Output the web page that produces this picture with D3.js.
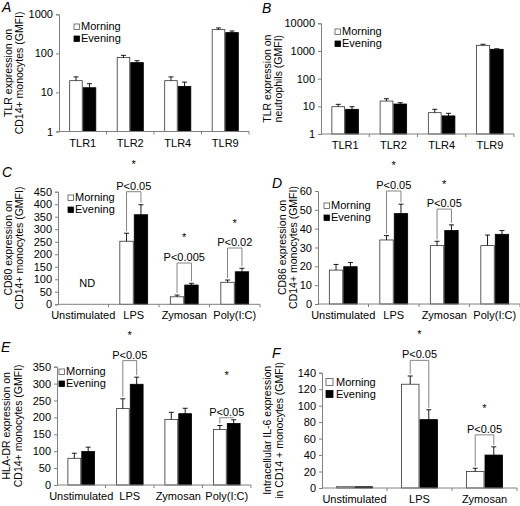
<!DOCTYPE html>
<html>
<head>
<meta charset="utf-8">
<script src="https://cdn.jsdelivr.net/npm/d3@7/dist/d3.min.js"></script>
<style>
  html, body { margin: 0; padding: 0; background: #fff; }
  svg { display: block; }
  text { font-family: "Liberation Sans", Arial, sans-serif; fill: #000; }
</style>
</head>
<body>
<svg id="chart" width="520" height="506"></svg>
<script>
// ---------- data ----------
const seriesNames = ["Morning", "Evening"];
const catsTLR = ["TLR1", "TLR2", "TLR4", "TLR9"];
const catsStim = ["Unstimulated", "LPS", "Zymosan", "Poly(I:C)"];
const catsIL6 = ["Unstimulated", "LPS", "Zymosan"];

// A: TLR on CD14+ monocytes (log)
const aMorning = [20, 78, 20, 405];
const aMorningErr = [5, 11, 5, 42];
const aEvening = [13.2, 58, 14.3, 340];
const aEveningErr = [3.5, 7, 4.1, 34];
const aTicks = [1, 10, 100, 1000];

// B: TLR on neutrophils (log)
const bMorning = [9.7, 15.5, 5.9, 1600];
const bMorningErr = [2.1, 3.3, 1.9, 150];
const bEvening = [7.8, 12.1, 4.5, 1150];
const bEveningErr = [1.9, 1.4, 1.1, 50];
const bTicks = [1, 10, 100, 1000, 10000];

// C: CD80 (Unstimulated = ND)
const cMorning = [null, 252, 30, 88];
const cMorningErr = [0, 32, 7, 9];
const cEvening = [null, 358, 77, 130];
const cEveningErr = [0, 40, 7, 14];
const cTicks = [0, 50, 100, 150, 200, 250, 300, 350, 400, 450];

// D: CD86
const dMorning = [18, 34, 31, 31];
const dMorningErr = [3, 2.3, 2.3, 5.6];
const dEvening = [19.8, 48, 39, 37];
const dEveningErr = [2.2, 5, 3, 2];
const dTicks = [0, 10, 20, 30, 40, 50, 60];

// E: HLA-DR
const eMorning = [79, 226, 194, 164];
const eMorningErr = [15, 29, 21, 12];
const eEvening = [99, 298, 211, 182];
const eEveningErr = [13, 21, 16, 11];
const eTicks = [0, 50, 100, 150, 200, 250, 300, 350];

// F: intracellular IL-6
const fMorning = [1.5, 126, 20];
const fMorningErr = [0, 10, 4];
const fEvening = [1.5, 83, 40];
const fEveningErr = [0, 12, 10];
const fTicks = [0, 20, 40, 60, 80, 100, 120, 140];

// annotations (in data units)
const cBrackets = [{cat: "LPS", at: 450, label: "P<0.05"}, {cat: "Zymosan", at: 165, label: "P<0.005"}, {cat: "Poly(I:C)", at: 225, label: "P<0.02"}];
const dBrackets = [{cat: "LPS", at: 60, label: "P<0.05"}, {cat: "Zymosan", at: 50.4, label: "P<0.05"}];
const eBrackets = [{cat: "LPS", at: 368, label: "P<0.05"}, {cat: "Poly(I:C)", at: 199, label: "P<0.05"}];
const fBrackets = [{cat: "LPS", at: 155, label: "P<0.05"}, {cat: "Zymosan", at: 64.5, label: "P<0.05"}];
const cStars = [{cat: "LPS", at: 569}, {cat: "Zymosan", at: 277}, {cat: "Poly(I:C)", at: 333}];
const dStars = [{cat: "LPS", at: 75}, {cat: "Zymosan", at: 65}];
const eStars = [{cat: "LPS", at: 451}, {cat: "Poly(I:C)", at: 332}];
const fStars = [{cat: "LPS", at: 189}, {cat: "Zymosan", at: 99}];
const cNotes = [{cat: "Unstimulated", at: 69, label: "ND"}];

// ---------- layout ----------
const panels = [
  {letter: "A", lx: 2, ly: 12, x0: 59, x1: 249, yt: 14.3, yb: 131.5, log: true, domain: [1, 1000], ticks: aTicks,
   cats: catsTLR, m: aMorning, me: aMorningErr, e: aEvening, ee: aEveningErr,
   title: ["TLR expression on", "CD14+ monocytes (GMFI)"], tx: [8, 19], leg: [74, 30],
   brackets: [], stars: [], notes: []},
  {letter: "B", lx: 262, ly: 13, x0: 321, x1: 514, yt: 23.3, yb: 134, log: true, domain: [1, 10000], ticks: bTicks,
   cats: catsTLR, m: bMorning, me: bMorningErr, e: bEvening, ee: bEveningErr,
   title: ["TLR expression on", "neutrophils (GMFI)"], tx: [267, 278], leg: [335, 35],
   brackets: [], stars: [], notes: []},
  {letter: "C", lx: 2, ly: 177, x0: 58, x1: 260, yt: 191.7, yb: 304.3, log: false, domain: [0, 450], ticks: cTicks,
   cats: catsStim, m: cMorning, me: cMorningErr, e: cEvening, ee: cEveningErr,
   title: ["CD80 expression on", "CD14+ monocytes (GMFI)"], tx: [8, 19], leg: [68, 201],
   brackets: cBrackets, stars: cStars, notes: cNotes},
  {letter: "D", lx: 272, ly: 188, x0: 318, x1: 520, yt: 191, yb: 304, log: false, domain: [0, 60], ticks: dTicks,
   cats: catsStim, m: dMorning, me: dMorningErr, e: dEvening, ee: dEveningErr,
   title: ["CD86 expression on", "CD14+ monocytes (GMFI)"], tx: [282, 293], leg: [324, 209],
   brackets: dBrackets, stars: dStars, notes: []},
  {letter: "E", lx: 1, ly: 352, x0: 57, x1: 251, yt: 366.7, yb: 485, log: false, domain: [0, 350], ticks: eTicks,
   cats: catsStim, m: eMorning, me: eMorningErr, e: eEvening, ee: eEveningErr,
   title: ["HLA-DR expression on", "CD14+ monocytes (GMFI)"], tx: [6, 18], leg: [59, 375],
   brackets: eBrackets, stars: eStars, notes: []},
  {letter: "F", lx: 272, ly: 358, x0: 322, x1: 517, yt: 372.7, yb: 488, log: false, domain: [0, 140], ticks: fTicks,
   cats: catsIL6, m: fMorning, me: fMorningErr, e: fEvening, ee: fEveningErr,
   title: ["Intracellular IL-6 expression", "in CD14 + monocytes (GMFI)"], tx: [267, 279], leg: [326, 386], bigLeg: true,
   brackets: fBrackets, stars: fStars, notes: []}
];

const svg = d3.select("#chart");
const AX = "#808080";

function drawPanel(p) {
  const g = svg.append("g");
  const x = d3.scaleBand().domain(p.cats).range([p.x0, p.x1]);
  const bw = x.bandwidth();
  const frac = 0.571;
  const xs = d3.scaleBand().domain(seriesNames).range([bw * (1 - frac) / 2, bw * (1 + frac) / 2]);
  const y = p.log ? d3.scaleLog().domain(p.domain).range([p.yb, p.yt])
                  : d3.scaleLinear().domain(p.domain).range([p.yb, p.yt]);
  const base = p.log ? p.domain[0] : 0;

  // panel letter
  g.append("text").attr("x", p.lx).attr("y", p.ly).attr("font-size", 14).attr("font-style", "italic").text(p.letter);

  // y title
  const cy = (p.yt + p.yb) / 2;
  p.title.forEach((t, i) => {
    g.append("text").attr("transform", `translate(${p.tx[i]},${cy}) rotate(-90)`)
      .attr("text-anchor", "middle").attr("dominant-baseline", "central")
      .attr("font-size", 10.5).text(t);
  });

  // y axis
  const ya = g.append("g").attr("transform", `translate(${p.x0},0)`)
    .call(d3.axisLeft(y).tickValues(p.ticks).tickSize(3).tickPadding(3).tickFormat(d3.format("d")));
  ya.select(".domain").attr("stroke", AX);
  ya.selectAll(".tick line").attr("stroke", AX);
  ya.selectAll(".tick text").attr("font-size", 11).attr("font-family", "Liberation Sans, Arial, sans-serif").attr("fill", "#000");

  // bars
  const series = [
    {name: "Morning", v: p.m, err: p.me, fill: "#fff", stroke: "#333"},
    {name: "Evening", v: p.e, err: p.ee, fill: "#000", stroke: "#000"}
  ];
  series.forEach(s => {
    p.cats.forEach((c, i) => {
      const v = s.v[i];
      if (v == null) return;
      const bx = x(c) + xs(s.name);
      const w = xs.bandwidth();
      g.append("rect").attr("x", bx + 0.5).attr("y", y(v)).attr("width", w - 1)
        .attr("height", Math.max(0.8, y(base) - y(v)))
        .attr("fill", s.fill).attr("stroke", s.stroke).attr("stroke-width", 0.8);
      const er = s.err[i];
      if (er > 0) {
        const cx = bx + w / 2;
        g.append("line").attr("x1", cx).attr("x2", cx).attr("y1", y(v)).attr("y2", y(v + er))
          .attr("stroke", "#000").attr("stroke-width", 0.9);
        g.append("line").attr("x1", cx - 2.5).attr("x2", cx + 2.5).attr("y1", y(v + er)).attr("y2", y(v + er))
          .attr("stroke", "#000").attr("stroke-width", 0.9);
      }
    });
  });

  // x axis
  g.append("line").attr("x1", p.x0).attr("x2", p.x1).attr("y1", p.yb).attr("y2", p.yb).attr("stroke", AX);
  const bounds = p.cats.slice(1).map(c => x(c)).concat([p.x1]);
  bounds.forEach(bx => {
    g.append("line").attr("x1", bx).attr("x2", bx).attr("y1", p.yb).attr("y2", p.yb + 3).attr("stroke", AX);
  });
  p.cats.forEach(c => {
    g.append("text").attr("x", x(c) + bw / 2).attr("y", p.yb + 15).attr("text-anchor", "middle")
      .attr("font-size", 11).text(c);
  });

  // legend
  const ls = p.bigLeg ? 7 : 5.5;
  seriesNames.forEach((n, i) => {
    const ty = p.leg[1] + i * 12;
    g.append("rect").attr("x", p.leg[0]).attr("y", ty - ls - 0.5).attr("width", ls).attr("height", ls)
      .attr("fill", i === 0 ? "#fff" : "#000").attr("stroke", i === 0 ? "#555" : "#000").attr("stroke-width", 0.8);
    g.append("text").attr("x", p.leg[0] + ls + (p.bigLeg ? 3 : 1.5)).attr("y", ty).attr("font-size", 11).text(n);
  });

  // brackets
  p.brackets.forEach(b => {
    const i = p.cats.indexOf(b.cat);
    const lx = x(b.cat) + xs("Morning") + xs.bandwidth() / 2;
    const rx = x(b.cat) + xs("Evening") + xs.bandwidth() / 2;
    const by = y(b.at);
    const ly = y(p.m[i] + p.me[i]) - 2;
    const ry = y(p.e[i] + p.ee[i]) - 2;
    g.append("path").attr("d", `M${lx},${ly}V${by}H${rx}V${ry}`)
      .attr("fill", "none").attr("stroke", "#777").attr("stroke-width", 0.9);
    g.append("text").attr("x", (lx + rx) / 2).attr("y", by - 2).attr("text-anchor", "middle")
      .attr("font-size", 11).text(b.label);
  });

  // asterisks
  p.stars.forEach(s => {
    g.append("text").attr("x", x(s.cat) + bw / 2).attr("y", y(s.at) + 6).attr("text-anchor", "middle")
      .attr("font-size", 11).text("*");
  });

  // notes
  p.notes.forEach(n => {
    g.append("text").attr("x", x(n.cat) + bw / 2 + 4).attr("y", y(n.at)).attr("text-anchor", "middle")
      .attr("font-size", 11).text(n.label);
  });
}

panels.forEach(drawPanel);
</script>
</body>
</html>
